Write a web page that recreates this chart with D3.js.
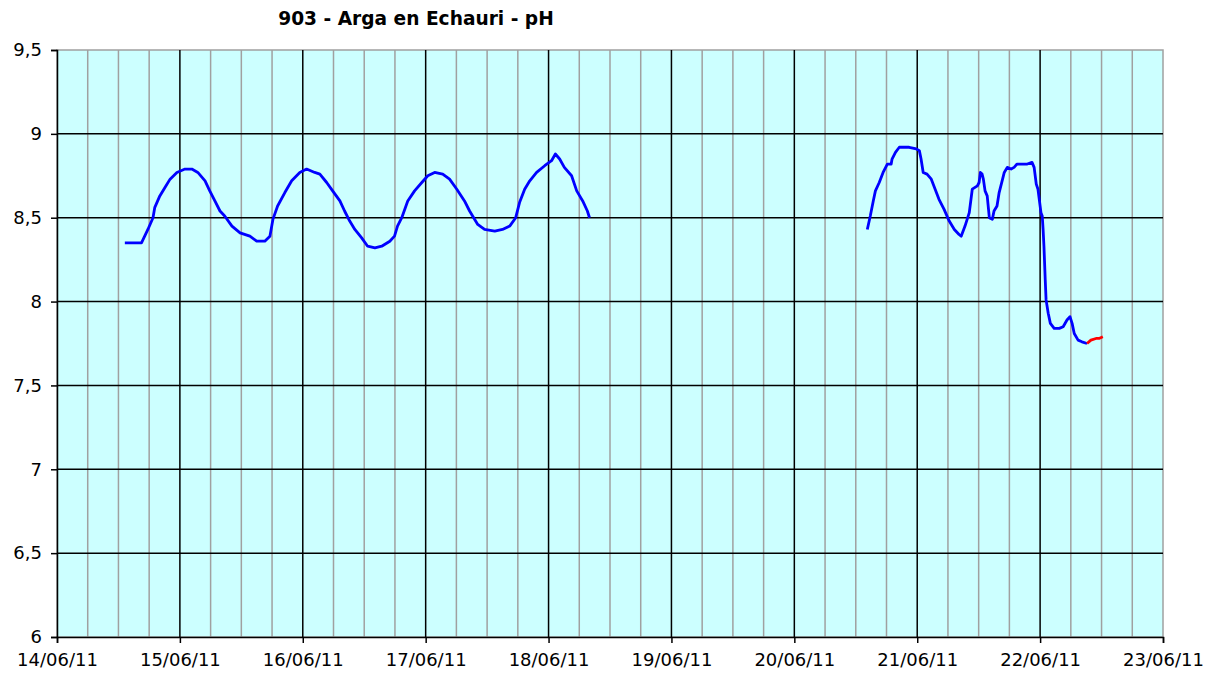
<!DOCTYPE html>
<html>
<head>
<meta charset="utf-8">
<script src="https://cdn.jsdelivr.net/npm/d3@7"></script>
<style>
body { margin: 0; background: #fff; }
text { font-family: "DejaVu Sans", Verdana, sans-serif; }
</style>
</head>
<body>
<div id="chart"></div>
<script>
var title = '903 - Arga en Echauri - pH';

// blue series, null marks the gap in the record
var phTimes = [
'14/06/11 13:15','14/06/11 16:30','14/06/11 17:45','14/06/11 18:45','14/06/11 19:05','14/06/11 20:05','14/06/11 21:05','14/06/11 22:05','14/06/11 23:25',
'15/06/11 01:00','15/06/11 02:20','15/06/11 03:30','15/06/11 04:55','15/06/11 05:50','15/06/11 06:50','15/06/11 07:50','15/06/11 08:45','15/06/11 10:10','15/06/11 11:45','15/06/11 13:40','15/06/11 15:00','15/06/11 16:35','15/06/11 17:35','15/06/11 18:10','15/06/11 19:05','15/06/11 20:30','15/06/11 21:50','15/06/11 23:25',
'16/06/11 00:45','16/06/11 02:20','16/06/11 03:20','16/06/11 04:40','16/06/11 05:50','16/06/11 07:15','16/06/11 08:10','16/06/11 09:10','16/06/11 10:10','16/06/11 11:30','16/06/11 12:40','16/06/11 14:05','16/06/11 15:25','16/06/11 17:00','16/06/11 17:55','16/06/11 18:30','16/06/11 19:20','16/06/11 20:30','16/06/11 21:50','16/06/11 23:15',
'17/06/11 00:25','17/06/11 01:45','17/06/11 03:20','17/06/11 04:40','17/06/11 06:05','17/06/11 07:35','17/06/11 08:35','17/06/11 09:10','17/06/11 10:10','17/06/11 11:30','17/06/11 13:30','17/06/11 15:00','17/06/11 16:25','17/06/11 17:35','17/06/11 18:20','17/06/11 19:20','17/06/11 20:20','17/06/11 21:40','17/06/11 23:15',
'18/06/11 00:35','18/06/11 01:20','18/06/11 02:10','18/06/11 03:05','18/06/11 04:30','18/06/11 05:30','18/06/11 06:40','18/06/11 07:35','18/06/11 08:00',
'19/06/11 12:00',
'20/06/11 14:15','20/06/11 14:50','20/06/11 15:25','20/06/11 15:50','20/06/11 16:35','20/06/11 17:20','20/06/11 18:10','20/06/11 18:55','20/06/11 19:05','20/06/11 19:45','20/06/11 20:30','20/06/11 22:25','20/06/11 23:50',
'21/06/11 00:25','21/06/11 00:45','21/06/11 01:10','21/06/11 01:55','21/06/11 02:45','21/06/11 03:30','21/06/11 04:15','21/06/11 05:15','21/06/11 06:15','21/06/11 07:15','21/06/11 08:10','21/06/11 08:35','21/06/11 09:20','21/06/11 10:10','21/06/11 10:45','21/06/11 11:45','21/06/11 12:05','21/06/11 12:20','21/06/11 12:40','21/06/11 12:55','21/06/11 13:15','21/06/11 13:40','21/06/11 14:05','21/06/11 14:40','21/06/11 15:00','21/06/11 15:35','21/06/11 16:00','21/06/11 16:35','21/06/11 17:00','21/06/11 17:35','21/06/11 18:20','21/06/11 18:55','21/06/11 19:30','21/06/11 21:30','21/06/11 22:25','21/06/11 22:50','21/06/11 23:15','21/06/11 23:35','21/06/11 23:50',
'22/06/11 00:10','22/06/11 00:25','22/06/11 00:35','22/06/11 00:45','22/06/11 01:00','22/06/11 01:10','22/06/11 01:35','22/06/11 02:00','22/06/11 02:45','22/06/11 03:45','22/06/11 04:30','22/06/11 05:15','22/06/11 05:50','22/06/11 06:15','22/06/11 06:40','22/06/11 07:25','22/06/11 08:10','22/06/11 09:10'
];
var phValues = [
8.35,8.35,8.43,8.50,8.56,8.63,8.68,8.73,8.77,
8.79,8.79,8.77,8.72,8.66,8.60,8.54,8.51,8.45,8.41,8.39,8.36,8.36,8.39,8.49,8.57,8.65,8.72,8.77,
8.79,8.77,8.76,8.71,8.66,8.60,8.54,8.48,8.43,8.38,8.33,8.32,8.33,8.36,8.39,8.45,8.50,8.60,8.66,8.71,
8.75,8.77,8.76,8.73,8.67,8.60,8.54,8.51,8.46,8.43,8.42,8.43,8.45,8.50,8.59,8.67,8.72,8.77,8.81,
8.84,8.88,8.85,8.80,8.75,8.66,8.60,8.54,8.50,
null,
8.43,8.51,8.60,8.66,8.71,8.77,8.82,8.82,8.85,8.89,8.92,8.92,8.91,
8.90,8.85,8.77,8.76,8.73,8.67,8.61,8.55,8.48,8.43,8.40,8.39,8.45,8.53,8.67,8.69,8.71,8.77,8.76,8.73,8.66,8.63,8.50,8.49,8.54,8.57,8.65,8.72,8.77,8.80,8.79,8.80,8.82,8.82,8.83,8.80,8.70,8.67,8.61,
8.53,8.51,8.43,8.33,8.13,8.01,7.93,7.87,7.84,7.84,7.85,7.89,7.91,7.87,7.81,7.77,7.76,7.75
];

// red tail
var tailTimes = ['22/06/11 09:10','22/06/11 09:55','22/06/11 10:55','22/06/11 11:30','22/06/11 12:15'];
var tailValues = [7.75,7.77,7.78,7.78,7.79];

var yTicks = [6, 6.5, 7, 7.5, 8, 8.5, 9, 9.5];
var xStart = '14/06/11 00:00';
var xEnd = '23/06/11 00:00';

var parse = d3.timeParse('%d/%m/%y %H:%M');

var margin = { top: 50, right: 58, bottom: 42, left: 57 };
var fullW = 1221, fullH = 679;
var width = fullW - margin.left - margin.right;
var height = fullH - margin.top - margin.bottom;

var xScale = d3.scaleTime()
	.domain([parse(xStart), parse(xEnd)])
	.range([0, width]);

var yScale = d3.scaleLinear()
	.domain([6, 9.5])
	.range([height, 0]);

var svg = d3.select('#chart').append('svg')
	.attr('width', fullW)
	.attr('height', fullH);

svg.append('text')
	.attr('x', 416)
	.attr('y', 25)
	.attr('text-anchor', 'middle')
	.style('font-size', '18.6px')
	.style('font-weight', 'bold')
	.text(title);

var g = svg.append('g')
	.attr('transform', 'translate(' + margin.left + ',' + margin.top + ')');

g.append('rect')
	.attr('width', width)
	.attr('height', height)
	.attr('fill', '#ccffff')
	.attr('stroke', '#a0a0a0')
	.attr('stroke-width', 1.5);

// minor grid every 6 hours
g.selectAll('.minor')
	.data(xScale.ticks(d3.timeHour.every(6)).filter(function(d) { return d.getHours() != 0; }))
	.enter().append('line')
		.attr('x1', function(d) { return xScale(d); })
		.attr('x2', function(d) { return xScale(d); })
		.attr('y1', 0)
		.attr('y2', height)
		.attr('stroke', '#a0a0a0')
		.attr('stroke-width', 1.5);

// day lines
g.selectAll('.major')
	.data(xScale.ticks(d3.timeDay.every(1)).slice(1, -1))
	.enter().append('line')
		.attr('x1', function(d) { return xScale(d); })
		.attr('x2', function(d) { return xScale(d); })
		.attr('y1', 0)
		.attr('y2', height)
		.attr('stroke', '#000')
		.attr('stroke-width', 1.5);

g.selectAll('.hgrid')
	.data(yTicks.slice(1, -1))
	.enter().append('line')
		.attr('x1', 0)
		.attr('x2', width)
		.attr('y1', function(d) { return yScale(d); })
		.attr('y2', function(d) { return yScale(d); })
		.attr('stroke', '#000')
		.attr('stroke-width', 1.5);

// axes
var yAxis = d3.axisLeft(yScale)
	.tickValues(yTicks)
	.tickSize(6)
	.tickPadding(9)
	.tickFormat(function(d) { return String(d).replace('.', ','); });

var yGuide = g.append('g').call(yAxis);

var xAxis = d3.axisBottom(xScale)
	.ticks(d3.timeDay.every(1))
	.tickSize(6)
	.tickPadding(10)
	.tickFormat(d3.timeFormat('%d/%m/%y'));

var xGuide = g.append('g')
	.attr('transform', 'translate(0,' + height + ')')
	.call(xAxis);

[yGuide, xGuide].forEach(function(a) {
	a.select('.domain').attr('stroke', '#000').attr('stroke-width', 1.5);
	a.selectAll('.tick line').attr('stroke', '#000').attr('stroke-width', 1.5);
	a.selectAll('text')
		.attr('fill', '#000')
		.style('font-size', '18px')
		.style('font-family', '"DejaVu Sans", Verdana, sans-serif');
});

var line = d3.line()
	.defined(function(d) { return d[1] != null; })
	.x(function(d) { return xScale(d[0]); })
	.y(function(d) { return yScale(d[1]); });

var blue = phTimes.map(function(t, i) { return [parse(t), phValues[i]]; });
var red = tailTimes.map(function(t, i) { return [parse(t), tailValues[i]]; });

g.append('path')
	.datum(blue)
	.attr('d', line)
	.attr('fill', 'none')
	.attr('stroke', '#0000ff')
	.attr('stroke-width', 2.8)
	.attr('stroke-linejoin', 'round');

g.append('path')
	.datum(red)
	.attr('d', line)
	.attr('fill', 'none')
	.attr('stroke', '#ff0000')
	.attr('stroke-width', 2.8)
	.attr('stroke-linejoin', 'round');
</script>
</body>
</html>
